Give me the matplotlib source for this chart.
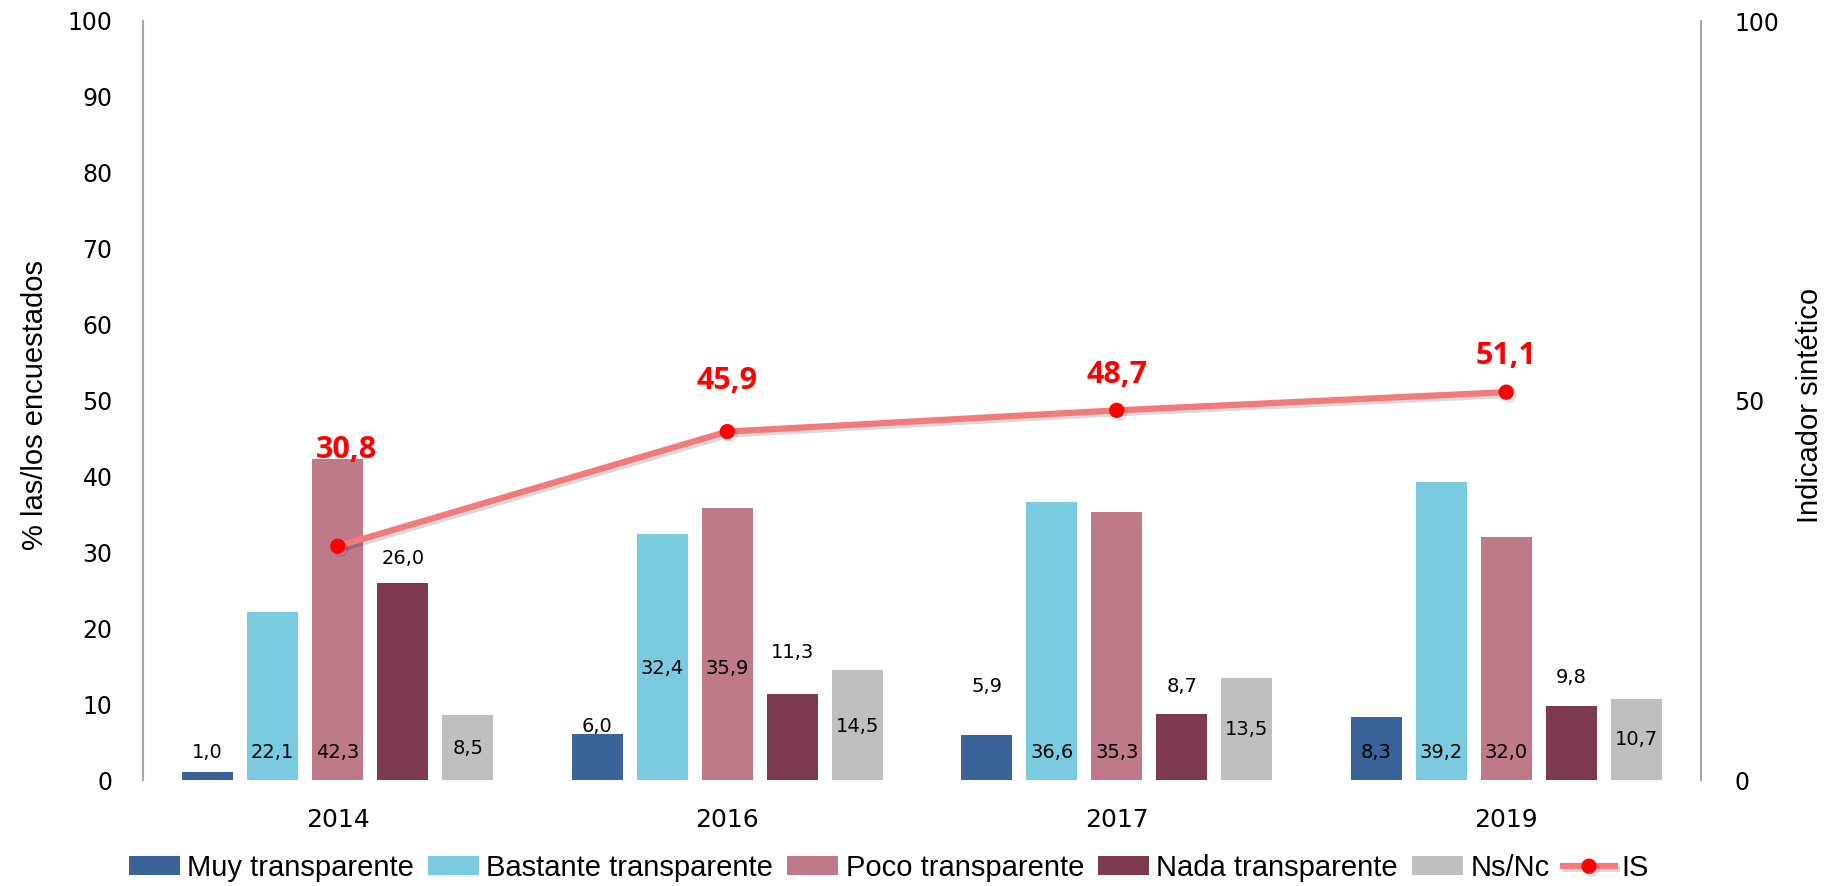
import matplotlib
matplotlib.use("Agg")
import matplotlib.pyplot as plt
import matplotlib.patheffects as pe
import numpy as np

# ---- data ----
years = ["2014", "2016", "2017", "2019"]
series_names = ["Muy transparente", "Bastante transparente", "Poco transparente",
                "Nada transparente", "Ns/Nc"]
muy = [1.0, 6.0, 5.9, 8.3]
bastante = [22.1, 32.4, 36.6, 39.2]
poco = [42.3, 35.9, 35.3, 32.0]
nada = [26.0, 11.3, 8.7, 9.8]
nsnc = [8.5, 14.5, 13.5, 10.7]
is_values = [30.8, 45.9, 48.7, 51.1]
left_ticks = [0, 10, 20, 30, 40, 50, 60, 70, 80, 90, 100]
right_ticks = [0, 50, 100]

# ---- style ----
colors = ["#3A6399", "#7BCBE0", "#BF7A89", "#7D3A4A", "#BFBFBF"]
line_color = "#F27A7A"
marker_color = "#FF0000"
spine_color = "#A6A6A6"
narrow = ["Liberation Sans", "DejaVu Sans"]

# label vertical positions (axis units) for each series/year, as in the reference
label_pos = [
    [3.6, 7.0, 12.3, 3.6],
    [3.6, 14.7, 3.6, 3.6],
    [3.6, 14.7, 3.6, 3.6],
    [29.2, 16.8, 12.3, 13.5],
    [4.1, 7.0, 6.7, 5.3],
]
is_label_pos = [43.5, 52.6, 53.4, 55.9]
is_label_dx = [0.023, 0.0, 0.0, 0.0]

W, H = 1837, 886
fig = plt.figure(figsize=(W / 100, H / 100), dpi=100)
ax = fig.add_axes([143 / W, 1 - 780 / H, 1558 / W, 759 / H])
ax2 = ax.twinx()

series = [muy, bastante, poco, nada, nsnc]
x = np.arange(len(years))
pitch = 0.167
width = 0.131
handles = []
for i, (vals, name, c) in enumerate(zip(series, series_names, colors)):
    off = (i - 2) * pitch
    b = ax.bar(x + off, vals, width=width, color=c, label=name, zorder=2)
    handles.append(b)
    for j, v in enumerate(vals):
        ax.text(x[j] + off, label_pos[i][j], f"{v:.1f}".replace(".", ","),
                ha="center", va="center", fontsize=14, color="black",
                family="DejaVu Sans", zorder=3)

ax.set_xlim(-0.5, len(years) - 0.5)
ax.set_ylim(0, 100)
ax.set_yticks(left_ticks)
ax.set_xticks(x)
ax.set_xticklabels(years)
ax.tick_params(axis="both", length=0, labelsize=17)
ax.tick_params(axis="x", labelsize=18, pad=20)
ax.tick_params(axis="y", pad=22)
for s in ["top", "right", "bottom"]:
    ax.spines[s].set_visible(False)
ax.spines["left"].set_color(spine_color)
ax.spines["left"].set_linewidth(1.5)

ln, = ax2.plot(x, is_values, color=line_color, lw=4.5, marker="o",
               markersize=10, markerfacecolor=marker_color,
               markeredgecolor=marker_color, label="IS", zorder=5,
               path_effects=[pe.SimpleLineShadow(offset=(2, -2), alpha=0.15),
                             pe.Normal()])
for j, v in enumerate(is_values):
    ax2.text(x[j] + is_label_dx[j], is_label_pos[j], f"{v:.1f}".replace(".", ","),
             ha="center", va="center", fontsize=22, fontweight="bold",
             color="#FF0000", family=["Open Sans", "DejaVu Sans"], zorder=6)
ax2.set_ylim(0, 100)
ax2.set_yticks(right_ticks)
ax2.tick_params(axis="y", length=0, labelsize=17, pad=24)
for s in ["top", "left", "bottom"]:
    ax2.spines[s].set_visible(False)
ax2.spines["right"].set_color(spine_color)
ax2.spines["right"].set_linewidth(1.5)

fig.text(35 / W, 1 - 405 / H, "% las/los encuestados", rotation=90,
         ha="center", va="center", fontsize=21, family=narrow)
fig.text(1810 / W, 1 - 405 / H, "Indicador sintético", rotation=90,
         ha="center", va="center", fontsize=21, family=narrow)

leg = fig.legend(handles + [ln], series_names + ["IS"], loc="center",
                 bbox_to_anchor=(889 / W, 1 - 868 / H), ncol=6, frameon=False,
                 prop={"family": narrow, "size": 21},
                 handlelength=1.75, handleheight=0.6, handletextpad=0.25,
                 columnspacing=0.48, borderaxespad=0, borderpad=0)

fig.savefig("out.png", dpi=100)
